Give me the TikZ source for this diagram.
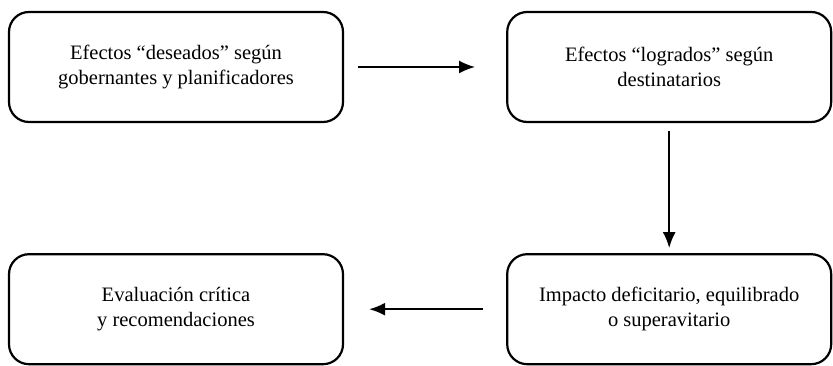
\documentclass[tikz,border=0pt]{standalone}
\usepackage{fontspec}
\setmainfont{Liberation Serif}
\usetikzlibrary{arrows.meta, positioning}

\begin{document}
\begin{tikzpicture}[
    x=1pt, y=1pt,
    caja/.style={draw, line width=2.2pt, rounded corners=20pt, minimum height=110pt,
                 align=center, font=\fontsize{20.5}{24.5}\selectfont},
    arr/.style={-{Latex[length=16pt, width=13pt]}, line width=2pt},
    node distance=130pt and 162pt
]
    \useasboundingbox (0,0) rectangle (833,366);
    \node[caja, minimum width=334pt] (des) at (176,299)
        {Efectos “deseados” según\\gobernantes y planificadores};
    \node[caja, minimum width=324pt, right=of des] (log)
        {Efectos “logrados” según\\destinatarios};
    \node[caja, minimum width=324pt, below=of log] (imp)
        {Impacto deficitario, equilibrado\\o superavitario};
    \node[caja, minimum width=334pt, left=of imp] (eva)
        {Evaluación crítica\\y recomendaciones};

    \draw[arr, shorten <=14pt, shorten >=31pt] (des) -- (log);
    \draw[arr, shorten <=8pt, shorten >=5pt] (log) -- (imp);
    \draw[arr, shorten <=23pt, shorten >=25pt] (imp) -- (eva);
\end{tikzpicture}
\end{document}
